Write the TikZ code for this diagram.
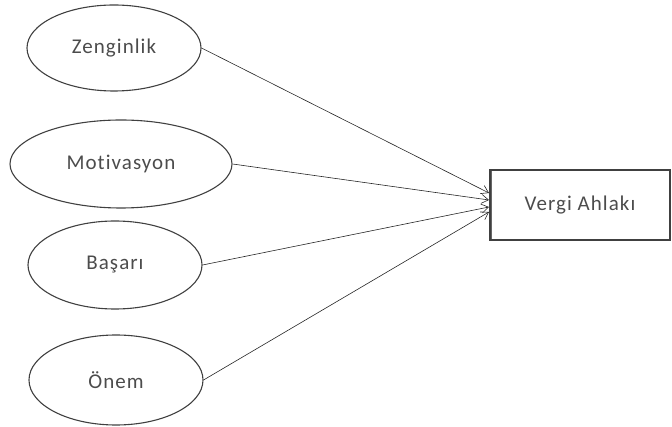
\documentclass[tikz,border=0pt]{standalone}
\usepackage{fontspec}
\setmainfont[LetterSpace=5,Ligatures={NoCommon,NoRequired,NoContextual}]{Carlito}
\usetikzlibrary{arrows.meta,shapes.geometric}
\begin{document}
\begin{tikzpicture}[x=1pt,y=-1pt,
  lbl/.style={font=\fontsize{21}{24}\selectfont, text=black!70},
  oval/.style={draw=black!75, line width=1.1pt, ellipse, inner sep=0pt, lbl},
  conn/.style={draw=black!85, line width=0.6pt, -{Straight Barb[length=7pt,width=9pt]}}]
\useasboundingbox (0,0) rectangle (672,427);
\node[oval, minimum width=174pt, minimum height=86pt] (z) at (114,48) {Zenginlik};
\node[oval, minimum width=222pt, minimum height=88pt] (m) at (121,164) {Motivasyon};
\node[oval, minimum width=174pt, minimum height=88pt] (b) at (115,265) {Başarı};
\node[oval, minimum width=174pt, minimum height=90pt] (o) at (116,380) {Önem};
\node[draw=black!75, line width=1.1pt, minimum width=180pt, minimum height=70pt, inner sep=0pt, lbl] (v) at (580,205) {Vergi Ahlakı};
\draw[line width=0.5pt, black!60] (491.5,171) -- (491.5,239);
\coordinate (t1) at (489,193);
\coordinate (t2) at (489,200);
\coordinate (t3) at (489,207);
\coordinate (t4) at (489,212);
\draw[conn] (z.east) -- (t1);
\draw[conn] (m.east) -- (t2);
\draw[conn] (b.east) -- (t3);
\draw[conn] (o.east) -- (t4);
\end{tikzpicture}
\end{document}
